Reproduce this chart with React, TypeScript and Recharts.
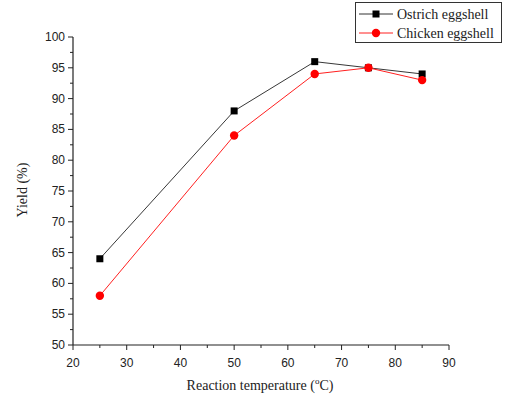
import React from 'react';
import { LineChart, Line, XAxis, YAxis } from 'recharts';

const temperatures = [25, 50, 65, 75, 85];
const ostrichYield = [64, 88, 96, 95, 94];
const chickenYield = [58, 84, 94, 95, 93];
const xTicks = [20, 25, 30, 35, 40, 45, 50, 55, 60, 65, 70, 75, 80, 85, 90];
const yTicks = [50, 52.5, 55, 57.5, 60, 62.5, 65, 67.5, 70, 72.5, 75, 77.5, 80, 82.5, 85, 87.5, 90, 92.5, 95, 97.5, 100];
const seriesNames = ['Ostrich eggshell', 'Chicken eggshell'];

const data = temperatures.map((t, i) => ({ t, ostrich: ostrichYield[i], chicken: chickenYield[i] }));

const AXIS = '#222';
const SANS = 'Arial, "Liberation Sans", sans-serif';
const SERIF = '"Times New Roman", "Liberation Serif", serif';

const YTick = (props: any) => {
  const { x, y, payload } = props;
  const major = payload.value % 5 === 0;
  return (
    <g>
      <line x1={x} x2={x - (major ? 5 : 3)} y1={y} y2={y} stroke={AXIS} strokeWidth={1} />
      {major && (
        <text x={x - 8} y={y} textAnchor="end" dominantBaseline="central" fontFamily={SANS} fontSize={12} fill="#222">
          {payload.value}
        </text>
      )}
    </g>
  );
};

const XTick = (props: any) => {
  const { x, y, payload } = props;
  const major = payload.value % 10 === 0;
  return (
    <g>
      <line x1={x} x2={x} y1={y} y2={y + (major ? 5 : 3)} stroke={AXIS} strokeWidth={1} />
      {major && (
        <text x={x} y={y + 22} textAnchor="middle" fontFamily={SANS} fontSize={12} fill="#222">
          {payload.value}
        </text>
      )}
    </g>
  );
};

const SquareDot = (props: any) => {
  const { cx, cy, index } = props;
  return <rect key={`s${index}`} x={cx - 3.5} y={cy - 3.5} width={7} height={7} fill="#000" />;
};

const CircleDot = (props: any) => {
  const { cx, cy, index } = props;
  return <circle key={`c${index}`} cx={cx} cy={cy} r={4.2} fill="#ff0000" />;
};

export default function App() {
  return (
    <div style={{ position: 'absolute', left: 0, top: 0, width: 507, height: 403, background: '#fff' }}>
      <LineChart width={507} height={403} data={data} margin={{ top: 37, right: 58, bottom: 0, left: 0 }}>
        <XAxis
          dataKey="t"
          type="number"
          domain={[20, 90]}
          ticks={xTicks}
          interval={0}
          tickSize={0}
          tickMargin={0}
          height={58}
          axisLine={{ stroke: AXIS, strokeWidth: 1.2 }}
          tickLine={false}
          tick={<XTick />}
        />
        <YAxis
          type="number"
          domain={[50, 100]}
          ticks={yTicks}
          interval={0}
          tickSize={0}
          tickMargin={0}
          width={73}
          axisLine={{ stroke: AXIS, strokeWidth: 1.2 }}
          tickLine={false}
          tick={<YTick />}
        />
        <Line
          dataKey="ostrich"
          stroke="#383838"
          strokeWidth={1}
          dot={<SquareDot />}
          activeDot={false}
          isAnimationActive={false}
        />
        <Line
          dataKey="chicken"
          stroke="#ff2020"
          strokeWidth={1}
          dot={<CircleDot />}
          activeDot={false}
          isAnimationActive={false}
        />
        <text x={22} y={190} transform="rotate(-90 22 190)" textAnchor="middle" dominantBaseline="central" fontFamily={SERIF} fontSize={14} fill="#222">
          Yield (%)
        </text>
        <text x={260} y={390} textAnchor="middle" fontFamily={SERIF} fontSize={14} fill="#222">
          Reaction temperature (<tspan fontSize={9} dy={-6}>o</tspan><tspan dy={6}>C)</tspan>
        </text>
      </LineChart>
      <svg style={{ position: 'absolute', left: 0, top: 0 }} width={507} height={403} pointerEvents="none">
        <rect x={355.5} y={2.5} width={146} height={40} fill="#fff" stroke="#333" strokeWidth={1} />
        <line x1={359} x2={393} y1={14} y2={14} stroke="#333" strokeWidth={1} />
        <rect x={372.5} y={10.5} width={7} height={7} fill="#000" />
        <text x={397} y={14} dominantBaseline="central" fontFamily={SERIF} fontSize={14} fill="#222">{seriesNames[0]}</text>
        <line x1={359} x2={393} y1={33} y2={33} stroke="#ff2020" strokeWidth={1} />
        <circle cx={376} cy={33} r={4.2} fill="#ff0000" />
        <text x={397} y={33} dominantBaseline="central" fontFamily={SERIF} fontSize={14} fill="#222">{seriesNames[1]}</text>
      </svg>
    </div>
  );
}
